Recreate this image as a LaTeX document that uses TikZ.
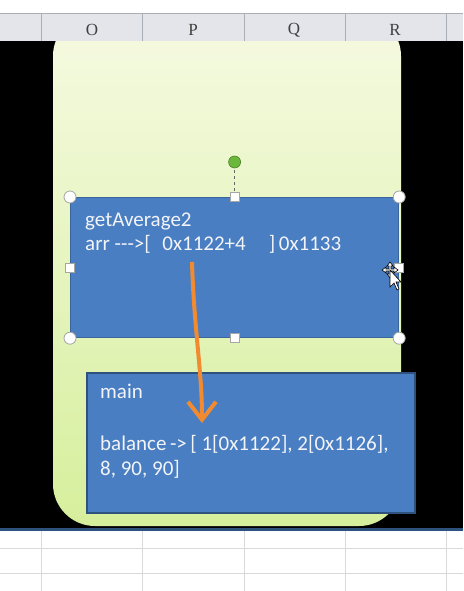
\documentclass[tikz,border=0pt]{standalone}
\usepackage{fontspec}
\setmainfont{Carlito}
\newfontfamily\hdrfont{Liberation Serif}
\usetikzlibrary{arrows.meta}
\definecolor{hdrgray}{HTML}{E3E5EA}
\definecolor{hdrline}{HTML}{A9ADB5}
\definecolor{gridline}{HTML}{D9D9D9}
\definecolor{boxblue}{HTML}{4A7EC2}
\definecolor{boxedge}{HTML}{3A659C}
\definecolor{greentop}{HTML}{F6FAE2}
\definecolor{greenbot}{HTML}{D6EF9C}
\definecolor{arroworange}{HTML}{F28B30}
\definecolor{handlegreen}{HTML}{6CB83A}
\definecolor{txtwhite}{HTML}{F2F4F8}
\tikzset{
  bluebox/.style={fill=boxblue, draw=boxedge, line width=1.2pt, anchor=north west, inner sep=0pt},
  boxtext/.style={anchor=base west, inner sep=0pt, text=txtwhite, font=\fontsize{21}{25}\selectfont},
  hdrtext/.style={font=\hdrfont\fontsize{17}{20}\selectfont, text=black!75, inner sep=0pt},
  cornerhandle/.style={circle, fill=white, draw=gray!70, line width=0.8pt, minimum size=12pt, inner sep=0pt},
  sidehandle/.style={rectangle, fill=white, draw=gray!70, line width=0.8pt, minimum size=9pt, inner sep=0pt},
  flowarrow/.style={draw=arroworange, line width=4pt, -{Straight Barb[length=18pt,width=28pt,line width=4pt]}},
}
\begin{document}
\begin{tikzpicture}[x=1pt,y=-1pt]
\useasboundingbox (0,0) rectangle (463,591);
\fill[white] (0,0) rectangle (463,591);
% header row
\fill[hdrgray] (0,14) rectangle (463,41);
\draw[hdrline, line width=1pt] (0,13.5) -- (463,13.5);
\draw[hdrline, line width=0.8pt] (0,41) -- (463,41);
\foreach \x in {41,142,244,345,446} \draw[hdrline, line width=0.8pt] (\x,14) -- (\x,41);
\node[hdrtext] (colO) at (92,30) {O};
\node[hdrtext] (colP) at (193,30) {P};
\node[hdrtext] (colQ) at (294,30) {Q};
\node[hdrtext] (colR) at (395,30) {R};
% black slide area
\fill[black] (0,41.5) rectangle (463,527.5);
\begin{scope}
\clip (0,41.5) rectangle (463,527.5);
\shade[top color=greentop, bottom color=greenbot, rounded corners=42pt] (53,14) rectangle (401,526);
\end{scope}
\fill[boxedge!80!black] (0,527.5) rectangle (463,531);
% grid below
\draw[gridline, line width=0.8pt] (0,548) -- (463,548) (0,573) -- (463,573);
\foreach \x in {41,142,244,345,446} \draw[gridline, line width=0.8pt] (\x,531) -- (\x,591);
% top box
\node[bluebox, minimum width=328pt, minimum height=140pt] (ga) at (70,197) {};
\node[boxtext] (gatitle) at (85,226) {getAverage2};
\node[boxtext] (gaarr) at (85,250) {arr -{}-{}-{}>[\hspace{0.55em}0x1122+4\hspace{1.1em}]\,0x1133};
% selection handles
\draw[gray!80!black, line width=1.5pt, dash pattern=on 3pt off 3pt] (ga.north) -- ++(0,-35) coordinate (rot);
\node[circle, fill=handlegreen, draw=handlegreen!70!black, line width=0.6pt, minimum size=12pt, inner sep=0pt] (rothandle) at (rot) {};
\foreach \a in {north west,north east,south west,south east} \node[cornerhandle] at (ga.\a) {};
\foreach \a in {north,south,west,east} \node[sidehandle] at (ga.\a) {};
% bottom box
\node[bluebox, draw=boxedge!80!black, line width=1.6pt, minimum width=328pt, minimum height=140pt] (mn) at (86,372) {};
\node[boxtext] (mntitle) at (100,398) {main};
\node[boxtext] (mnbal) at (100,450) {balance\,-{}>\,[ 1[0x1122], 2[0x1126],};
\node[boxtext] (mnvals) at (100,475) {8, 90, 90]};
% orange arrow
\coordinate (astart) at (192,262);
\coordinate (aend) at (202,423);
\draw[flowarrow] (astart) .. controls (194,330) and (202,370) .. (aend);
% cursor
\begin{scope}[shift={(390,270)}]
\fill[white, draw=black, line width=0.6pt] (-8,0) -- (-4,-3) -- (-4,-1) -- (-1,-1) -- (-1,-4) -- (-3,-4) -- (0,-8) -- (3,-4) -- (1,-4) -- (1,-1) -- (4,-1) -- (4,-3) -- (8,0) -- (4,3) -- (4,1) -- (1,1) -- (1,4) -- (3,4) -- (0,8) -- (-3,4) -- (-1,4) -- (-1,1) -- (-4,1) -- (-4,3) -- cycle;
\fill[white, draw=black, line width=0.6pt] (0,0) -- (0,17) -- (4,13) -- (7,20) -- (9,19) -- (6,12) -- (11,12) -- cycle;
\end{scope}
\end{tikzpicture}
\end{document}
